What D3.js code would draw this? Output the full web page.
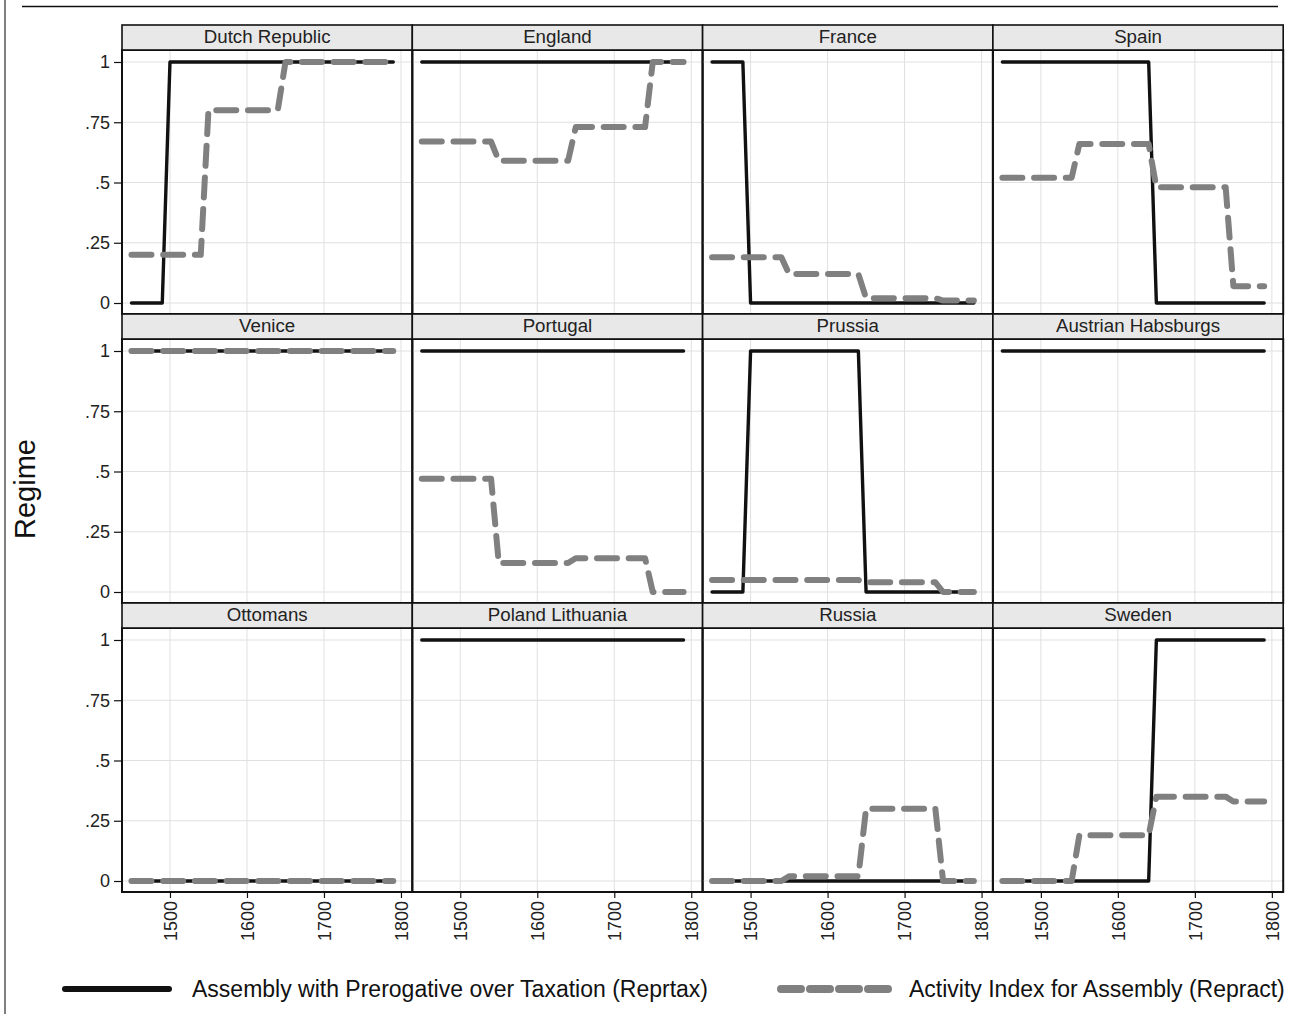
<!DOCTYPE html>
<html>
<head>
<meta charset="utf-8">
<script src="https://cdn.jsdelivr.net/npm/d3@7/dist/d3.min.js"></script>
<style>
  html, body { margin: 0; padding: 0; background: #fff; }
  svg { display: block; font-family: "Liberation Sans", Arial, sans-serif; }
</style>
</head>
<body>
<svg id="chart" width="1292" height="1014"></svg>
<script>
// ---------------- DATA ----------------
const years = [1450,1460,1470,1480,1490,1500,1510,1520,1530,1540,
               1550,1560,1570,1580,1590,1600,1610,1620,1630,1640,
               1650,1660,1670,1680,1690,1700,1710,1720,1730,1740,
               1750,1760,1770,1780,1790];

const countries = ["Dutch Republic","England","France","Spain",
                   "Venice","Portugal","Prussia","Austrian Habsburgs",
                   "Ottomans","Poland Lithuania","Russia","Sweden"];

// Assembly with Prerogative over Taxation (Reprtax), one value per year above
const reprtax = {
  "Dutch Republic":     [0,0,0,0,0, 1,1,1,1,1, 1,1,1,1,1,1,1,1,1,1, 1,1,1,1,1,1,1,1,1,1, 1,1,1,1,1],
  "England":            [1,1,1,1,1, 1,1,1,1,1, 1,1,1,1,1,1,1,1,1,1, 1,1,1,1,1,1,1,1,1,1, 1,1,1,1,1],
  "France":             [1,1,1,1,1, 0,0,0,0,0, 0,0,0,0,0,0,0,0,0,0, 0,0,0,0,0,0,0,0,0,0, 0,0,0,0,0],
  "Spain":              [1,1,1,1,1, 1,1,1,1,1, 1,1,1,1,1,1,1,1,1,1, 0,0,0,0,0,0,0,0,0,0, 0,0,0,0,0],
  "Venice":             [1,1,1,1,1, 1,1,1,1,1, 1,1,1,1,1,1,1,1,1,1, 1,1,1,1,1,1,1,1,1,1, 1,1,1,1,1],
  "Portugal":           [1,1,1,1,1, 1,1,1,1,1, 1,1,1,1,1,1,1,1,1,1, 1,1,1,1,1,1,1,1,1,1, 1,1,1,1,1],
  "Prussia":            [0,0,0,0,0, 1,1,1,1,1, 1,1,1,1,1,1,1,1,1,1, 0,0,0,0,0,0,0,0,0,0, 0,0,0,0,0],
  "Austrian Habsburgs": [1,1,1,1,1, 1,1,1,1,1, 1,1,1,1,1,1,1,1,1,1, 1,1,1,1,1,1,1,1,1,1, 1,1,1,1,1],
  "Ottomans":           [0,0,0,0,0, 0,0,0,0,0, 0,0,0,0,0,0,0,0,0,0, 0,0,0,0,0,0,0,0,0,0, 0,0,0,0,0],
  "Poland Lithuania":   [1,1,1,1,1, 1,1,1,1,1, 1,1,1,1,1,1,1,1,1,1, 1,1,1,1,1,1,1,1,1,1, 1,1,1,1,1],
  "Russia":             [0,0,0,0,0, 0,0,0,0,0, 0,0,0,0,0,0,0,0,0,0, 0,0,0,0,0,0,0,0,0,0, 0,0,0,0,0],
  "Sweden":             [0,0,0,0,0, 0,0,0,0,0, 0,0,0,0,0,0,0,0,0,0, 1,1,1,1,1,1,1,1,1,1, 1,1,1,1,1]
};

// Activity Index for Assembly (Repract), one value per year above (null = not shown)
const repract = {
  "Dutch Republic":     [.20,.20,.20,.20,.20, .20,.20,.20,.20,.20, .80,.80,.80,.80,.80,.80,.80,.80,.80,.80, 1,1,1,1,1,1,1,1,1,1, 1,1,1,1,1],
  "England":            [.67,.67,.67,.67,.67, .67,.67,.67,.67,.67, .59,.59,.59,.59,.59,.59,.59,.59,.59,.59, .73,.73,.73,.73,.73,.73,.73,.73,.73,.73, 1,1,1,1,1],
  "France":             [.19,.19,.19,.19,.19, .19,.19,.19,.19,.19, .12,.12,.12,.12,.12,.12,.12,.12,.12,.12, .02,.02,.02,.02,.02,.02,.02,.02,.02,.02, .01,.01,.01,.01,.01],
  "Spain":              [.52,.52,.52,.52,.52, .52,.52,.52,.52,.52, .66,.66,.66,.66,.66,.66,.66,.66,.66,.66, .48,.48,.48,.48,.48,.48,.48,.48,.48,.48, .07,.07,.07,.07,.07],
  "Venice":             [1,1,1,1,1, 1,1,1,1,1, 1,1,1,1,1,1,1,1,1,1, 1,1,1,1,1,1,1,1,1,1, 1,1,1,1,1],
  "Portugal":           [.47,.47,.47,.47,.47, .47,.47,.47,.47,.47, .12,.12,.12,.12,.12,.12,.12,.12,.12,.12, .14,.14,.14,.14,.14,.14,.14,.14,.14,.14, 0,0,0,0,0],
  "Prussia":            [.05,.05,.05,.05,.05, .05,.05,.05,.05,.05, .05,.05,.05,.05,.05,.05,.05,.05,.05,.05, .04,.04,.04,.04,.04,.04,.04,.04,.04,.04, 0,0,0,0,0],
  "Austrian Habsburgs": null,
  "Ottomans":           [0,0,0,0,0, 0,0,0,0,0, 0,0,0,0,0,0,0,0,0,0, 0,0,0,0,0,0,0,0,0,0, 0,0,0,0,0],
  "Poland Lithuania":   null,
  "Russia":             [0,0,0,0,0, 0,0,0,0,0, .02,.02,.02,.02,.02,.02,.02,.02,.02,.02, .30,.30,.30,.30,.30,.30,.30,.30,.30,.30, 0,0,0,0,0],
  "Sweden":             [0,0,0,0,0, 0,0,0,0,0, .19,.19,.19,.19,.19,.19,.19,.19,.19,.19, .35,.35,.35,.35,.35,.35,.35,.35,.35,.35, .33,.33,.33,.33,.33]
};

const xTickValues = [1500,1600,1700,1800];
const xTickLabels = ["1500","1600","1700","1800"];
const yTickValues = [0,.25,.5,.75,1];
const yTickLabels = ["0",".25",".5",".75","1"];
const legendLabels = ["Assembly with Prerogative over Taxation (Reprtax)",
                      "Activity Index for Assembly (Repract)"];
const yTitle = "Regime";

// ---------------- LAYOUT ----------------
const svg = d3.select("#chart");
const nCols = 4;
const panelW = 290.3;
const colLeft = c => 122 + c * panelW;
const rowPitch = 289;
const stripTop = r => 25 + r * rowPitch;
const stripH = 25;
const plotH = 264;
const xDomainStart = 1437.7;
const pxPerYear = 0.77;

const blackCol = "#111";
const grayCol = "#808080";
const gridCol = "#e0e0e0";

// frame lines
svg.append("line").attr("x1", 22).attr("x2", 1278).attr("y1", 6.5).attr("y2", 6.5)
  .attr("stroke", "#111").attr("stroke-width", 1.5);
svg.append("line").attr("x1", 5).attr("x2", 5).attr("y1", 0).attr("y2", 1014)
  .attr("stroke", "#555").attr("stroke-width", 1.5);

countries.forEach((name, i) => {
  const c = i % nCols, r = Math.floor(i / nCols);
  const left = colLeft(c);
  const sTop = stripTop(r);
  const pTop = sTop + stripH;
  const x = d3.scaleLinear()
    .domain([xDomainStart, xDomainStart + panelW / pxPerYear])
    .range([left, left + panelW]);
  const y = d3.scaleLinear().domain([0, 1]).range([pTop + 253, pTop + 12]);

  const g = svg.append("g");

  // grid
  g.selectAll(".gx").data(xTickValues).join("line")
    .attr("x1", d => x(d)).attr("x2", d => x(d))
    .attr("y1", pTop).attr("y2", pTop + plotH)
    .attr("stroke", gridCol).attr("stroke-width", 1);
  g.selectAll(".gy").data(yTickValues).join("line")
    .attr("x1", left).attr("x2", left + panelW)
    .attr("y1", d => y(d)).attr("y2", d => y(d))
    .attr("stroke", gridCol).attr("stroke-width", 1);

  const line = d3.line().x((d, k) => x(years[k])).y(d => y(d));

  // Reprtax (solid black) beneath
  g.append("path").datum(reprtax[name])
    .attr("d", line)
    .attr("fill", "none").attr("stroke", blackCol).attr("stroke-width", 3.4)
    .attr("stroke-linecap", "round").attr("stroke-linejoin", "round");

  // Repract (dashed gray) on top
  if (repract[name]) {
    g.append("path").datum(repract[name])
      .attr("d", line)
      .attr("fill", "none").attr("stroke", grayCol).attr("stroke-width", 6)
      .attr("stroke-dasharray", "20 11.7")
      .attr("stroke-linecap", "round").attr("stroke-linejoin", "round");
  }

  // panel border
  g.append("rect").attr("x", left).attr("y", pTop).attr("width", panelW).attr("height", plotH)
    .attr("fill", "none").attr("stroke", "#111").attr("stroke-width", 2);

  // strip
  g.append("rect").attr("x", left).attr("y", sTop).attr("width", panelW).attr("height", stripH)
    .attr("fill", "#e8e8e8").attr("stroke", "#111").attr("stroke-width", 1.6);
  g.append("text").attr("x", left + panelW / 2).attr("y", sTop + stripH / 2 + 1)
    .attr("text-anchor", "middle").attr("dominant-baseline", "middle")
    .attr("font-size", 18.7).attr("fill", "#222").text(name);

  // y axis on first column
  if (c === 0) {
    const ya = d3.axisLeft(y).tickValues(yTickValues)
      .tickFormat((d, k) => yTickLabels[k]).tickSize(8).tickPadding(4);
    const ag = svg.append("g").attr("transform", `translate(${left},0)`).call(ya);
    ag.select(".domain").remove();
    ag.selectAll("line").attr("stroke", "#111").attr("stroke-width", 1.2);
    ag.selectAll("text").attr("font-size", 18).attr("fill", "#222")
      .style("font-family", '"Liberation Sans", Arial, sans-serif');
  }

  // x axis on bottom row
  if (r === 2) {
    const xa = d3.axisBottom(x).tickValues(xTickValues)
      .tickFormat((d, k) => xTickLabels[k]).tickSize(6);
    const ag = svg.append("g").attr("transform", `translate(0,${pTop + plotH})`).call(xa);
    ag.select(".domain").remove();
    ag.selectAll("line").attr("stroke", "#111").attr("stroke-width", 1.2);
    ag.selectAll("text")
      .attr("font-size", 18).attr("fill", "#222")
      .style("font-family", '"Liberation Sans", Arial, sans-serif')
      .attr("transform", "rotate(-90)")
      .attr("x", -9).attr("y", 0).attr("dy", "0.35em")
      .style("text-anchor", "end");
  }
});

// y title
svg.append("text").attr("transform", "translate(35,489) rotate(-90)")
  .attr("text-anchor", "middle").attr("font-size", 29).attr("fill", "#111").text(yTitle);

// legend
const lg = svg.append("g");
lg.append("line").attr("x1", 65).attr("x2", 169).attr("y1", 989).attr("y2", 989)
  .attr("stroke", blackCol).attr("stroke-width", 6).attr("stroke-linecap", "round");
lg.append("text").attr("x", 192).attr("y", 997).attr("font-size", 23).attr("fill", "#111")
  .text(legendLabels[0]);
lg.append("line").attr("x1", 781).attr("x2", 889).attr("y1", 989).attr("y2", 989)
  .attr("stroke", grayCol).attr("stroke-width", 8).attr("stroke-linecap", "round")
  .attr("stroke-dasharray", "20 9");
lg.append("text").attr("x", 909).attr("y", 997).attr("font-size", 23).attr("fill", "#111")
  .text(legendLabels[1]);
</script>
</body>
</html>
